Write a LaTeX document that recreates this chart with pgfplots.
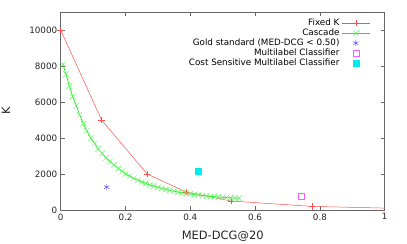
\documentclass[border=0pt]{standalone}
\usepackage{pgfplots}
\pgfplotsset{compat=1.18}
\usepackage{fontspec}
\setmainfont{DejaVu Sans}
\definecolor{fk}{RGB}{255,80,80}
\definecolor{cas}{RGB}{40,225,40}
\definecolor{casm}{RGB}{90,250,90}
\definecolor{gold}{RGB}{60,60,255}
\definecolor{mlc}{RGB}{255,90,255}
\definecolor{csml}{RGB}{0,235,235}
\begin{document}
\begin{tikzpicture}
\useasboundingbox (-60.7bp,-34bp) rectangle (346.3bp,210bp);
\begin{axis}[
  scale only axis, width=324bp, height=198bp,
  xmin=0, xmax=1, ymin=0, ymax=11000,
  xtick={0,0.2,0.4,0.6,0.8,1}, ytick={0,2000,4000,6000,8000,10000},
  xticklabels={0,0.2,0.4,0.6,0.8,1},
  yticklabels={0,2000,4000,6000,8000,10000},
  scaled y ticks=false,
  /pgf/number format/assume math mode=true,
  tick align=inside, tick pos=both, major tick length=4bp,
  axis line style={black!60, line width=0.6pt},
  every tick/.style={black!60, line width=0.6pt},
  ticklabel style={font=\fontsize{8.8}{10}\selectfont, black!85},
  xlabel={MED-DCG@20}, ylabel={K},
  label style={font=\fontsize{11.5}{13}\selectfont, black!85},
  xlabel style={at={(axis description cs:0.5,0)}, anchor=north, yshift=-17bp},
  ylabel style={at={(axis description cs:0,0.5)}, anchor=south, yshift=47bp},
  legend style={at={(axis description cs:0.965,0.985)}, anchor=north east, draw=none, fill=none,
     font=\fontsize{8.8}{10}\selectfont, legend cell align=right, row sep=-2.2pt,
     /tikz/every even column/.append style={column sep=2pt}},
  legend plot pos=right,
  mylegend/.style={legend image code/.code={\draw[mark repeat=2,mark phase=2,##1] plot coordinates {(0bp,0bp)(14bp,0bp)(28bp,0bp)};}},
]
\addplot[fk, line width=0.5pt, mark=+, mark size=3.2bp, mylegend] coordinates {
 (0,10000) (0.126,5000) (0.267,2000) (0.387,1000) (0.526,500) (0.775,200) (1.05,85)};
\addlegendentry{Fixed K}
\addplot[cas, line width=0.7pt, mark=x, mark size=4bp, mark options={casm, line width=0.45pt}, mylegend] coordinates {
 (0.007,8100) (0.016,7550) (0.027,6900) (0.037,6300) (0.048,5800) (0.058,5300)
 (0.07,4800) (0.08,4400) (0.093,4000) (0.105,3700) (0.115,3400) (0.128,3150)
 (0.14,2900) (0.152,2700) (0.165,2500) (0.178,2300) (0.19,2150) (0.2,2000)
 (0.213,1880) (0.225,1760) (0.238,1650) (0.25,1560) (0.262,1480) (0.275,1400)
 (0.287,1330) (0.3,1260) (0.312,1200) (0.325,1140) (0.337,1090) (0.35,1040)
 (0.362,1000) (0.375,960) (0.387,925) (0.4,890) (0.412,860) (0.425,830)
 (0.437,800) (0.45,780) (0.462,760) (0.475,740) (0.487,720) (0.5,700)
 (0.512,690) (0.525,680) (0.537,670) (0.55,660)};
\addlegendentry{Cascade}
\addplot[gold, only marks, mark=asterisk, mark size=3bp, mylegend] coordinates {(0.142,1270)};
\addlegendentry{Gold standard (MED-DCG < 0.50)}
\addplot[mlc, only marks, mark=square, mark size=3bp, mark options={draw=mlc, line width=0.6pt}, mylegend] coordinates {(0.744,745)};
\addlegendentry{Multilabel Classifier}
\addplot[csml, only marks, mark=square*, mark size=3bp, mark options={draw=csml,fill=csml}, mylegend] coordinates {(0.425,2170)};
\addlegendentry{Cost Sensitive Multilabel Classifier}
\end{axis}
\end{tikzpicture}
\end{document}
